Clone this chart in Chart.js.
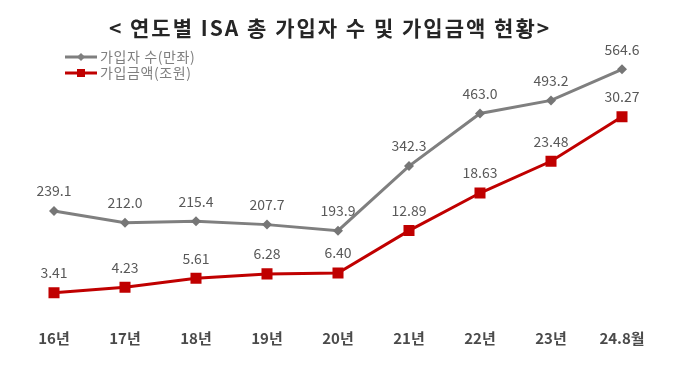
<!DOCTYPE html>
<html>
<head>
<meta charset="utf-8">
<script src="https://cdn.jsdelivr.net/npm/chart.js@4.4.1/dist/chart.umd.min.js"></script>
<style>
html,body{margin:0;padding:0;background:#fff;}
canvas{display:block;}
</style>
</head>
<body>
<canvas id="c" width="680" height="367"></canvas>
<script>
const categories = ['16년','17년','18년','19년','20년','21년','22년','23년','24.8월'];
const subscribers = [239.1, 212.0, 215.4, 207.7, 193.9, 342.3, 463.0, 493.2, 564.6];
const amounts = [3.41, 4.23, 5.61, 6.28, 6.40, 12.89, 18.63, 23.48, 30.27];
const seriesNames = ['가입자 수(만좌)', '가입금액(조원)'];
const titleText = '< 연도별 ISA 총 가입자 수 및 가입금액 현황>';
const decimals = [1, 2];

const FONT = '"Noto Sans CJK KR", "Noto Sans", sans-serif';
const GRAY = '#7f7f7f';
const RED = '#c00000';

const overlay = {
  id: 'overlay',
  afterDatasetsDraw(chart) {
    const ctx = chart.ctx;
    ctx.save();
    // data labels
    ctx.font = '14px ' + FONT;
    ctx.fillStyle = '#595959';
    ctx.textAlign = 'center';
    ctx.textBaseline = 'middle';
    chart.data.datasets.forEach((ds, i) => {
      const meta = chart.getDatasetMeta(i);
      meta.data.forEach((pt, j) => {
        ctx.fillText(ds.data[j].toFixed(decimals[i]), pt.x, pt.y - 20);
      });
    });
    // title
    ctx.font = 'bold 21px ' + FONT;
    ctx.fillStyle = '#262626';
    ctx.letterSpacing = '2px';
    ctx.fillText(titleText, 330, 28);
    ctx.letterSpacing = '0.6px';
    // legend
    const items = [{y: 57, c: GRAY, s: 'diamond'}, {y: 73, c: RED, s: 'rect'}];
    items.forEach((it, i) => {
      ctx.strokeStyle = it.c;
      ctx.lineWidth = 3;
      ctx.beginPath();
      ctx.moveTo(65, it.y);
      ctx.lineTo(97, it.y);
      ctx.stroke();
      ctx.fillStyle = it.c;
      ctx.beginPath();
      if (it.s === 'rect') ctx.rect(81 - 4, it.y - 4, 8, 8);
      else { ctx.moveTo(81, it.y - 4); ctx.lineTo(85, it.y); ctx.lineTo(81, it.y + 4); ctx.lineTo(77, it.y); ctx.closePath(); }
      ctx.fill();
      ctx.font = '14px ' + FONT;
      ctx.fillStyle = '#7f7f7f';
      ctx.textAlign = 'left';
      ctx.fillText(seriesNames[i], 100, it.y);
    });
    ctx.restore();
  }
};

new Chart(document.getElementById('c'), {
  type: 'line',
  data: {
    labels: categories,
    datasets: [
      {
        label: seriesNames[0],
        data: subscribers,
        yAxisID: 'y',
        borderColor: GRAY,
        backgroundColor: '#767676',
        borderWidth: 3,
        pointStyle: 'rectRot',
        pointRadius: 5,
        pointBorderWidth: 0,
        tension: 0
      },
      {
        label: seriesNames[1],
        data: amounts,
        yAxisID: 'y2',
        borderColor: RED,
        backgroundColor: RED,
        borderWidth: 3,
        pointStyle: 'rect',
        pointRadius: 7.8,
        pointBorderWidth: 0,
        tension: 0
      }
    ]
  },
  options: {
    responsive: false,
    devicePixelRatio: 1,
    animation: false,
    layout: {padding: {left: 54, right: 58, top: 40, bottom: 0}},
    plugins: {legend: {display: false}, title: {display: false}, tooltip: {enabled: false}},
    scales: {
      x: {
        offset: false,
        grid: {display: false, drawTicks: false},
        border: {display: false},
        ticks: {padding: 14, color: '#4a4a4a', font: {family: FONT, size: 15, weight: 'bold'}, maxRotation: 0, autoSkip: false},
        afterFit(scale) { scale.height = 52; }
      },
      y: {display: false, min: 0, max: 632},
      y2: {display: false, min: 0, max: 42, position: 'right'}
    }
  },
  plugins: [overlay]
});
</script>
</body>
</html>
